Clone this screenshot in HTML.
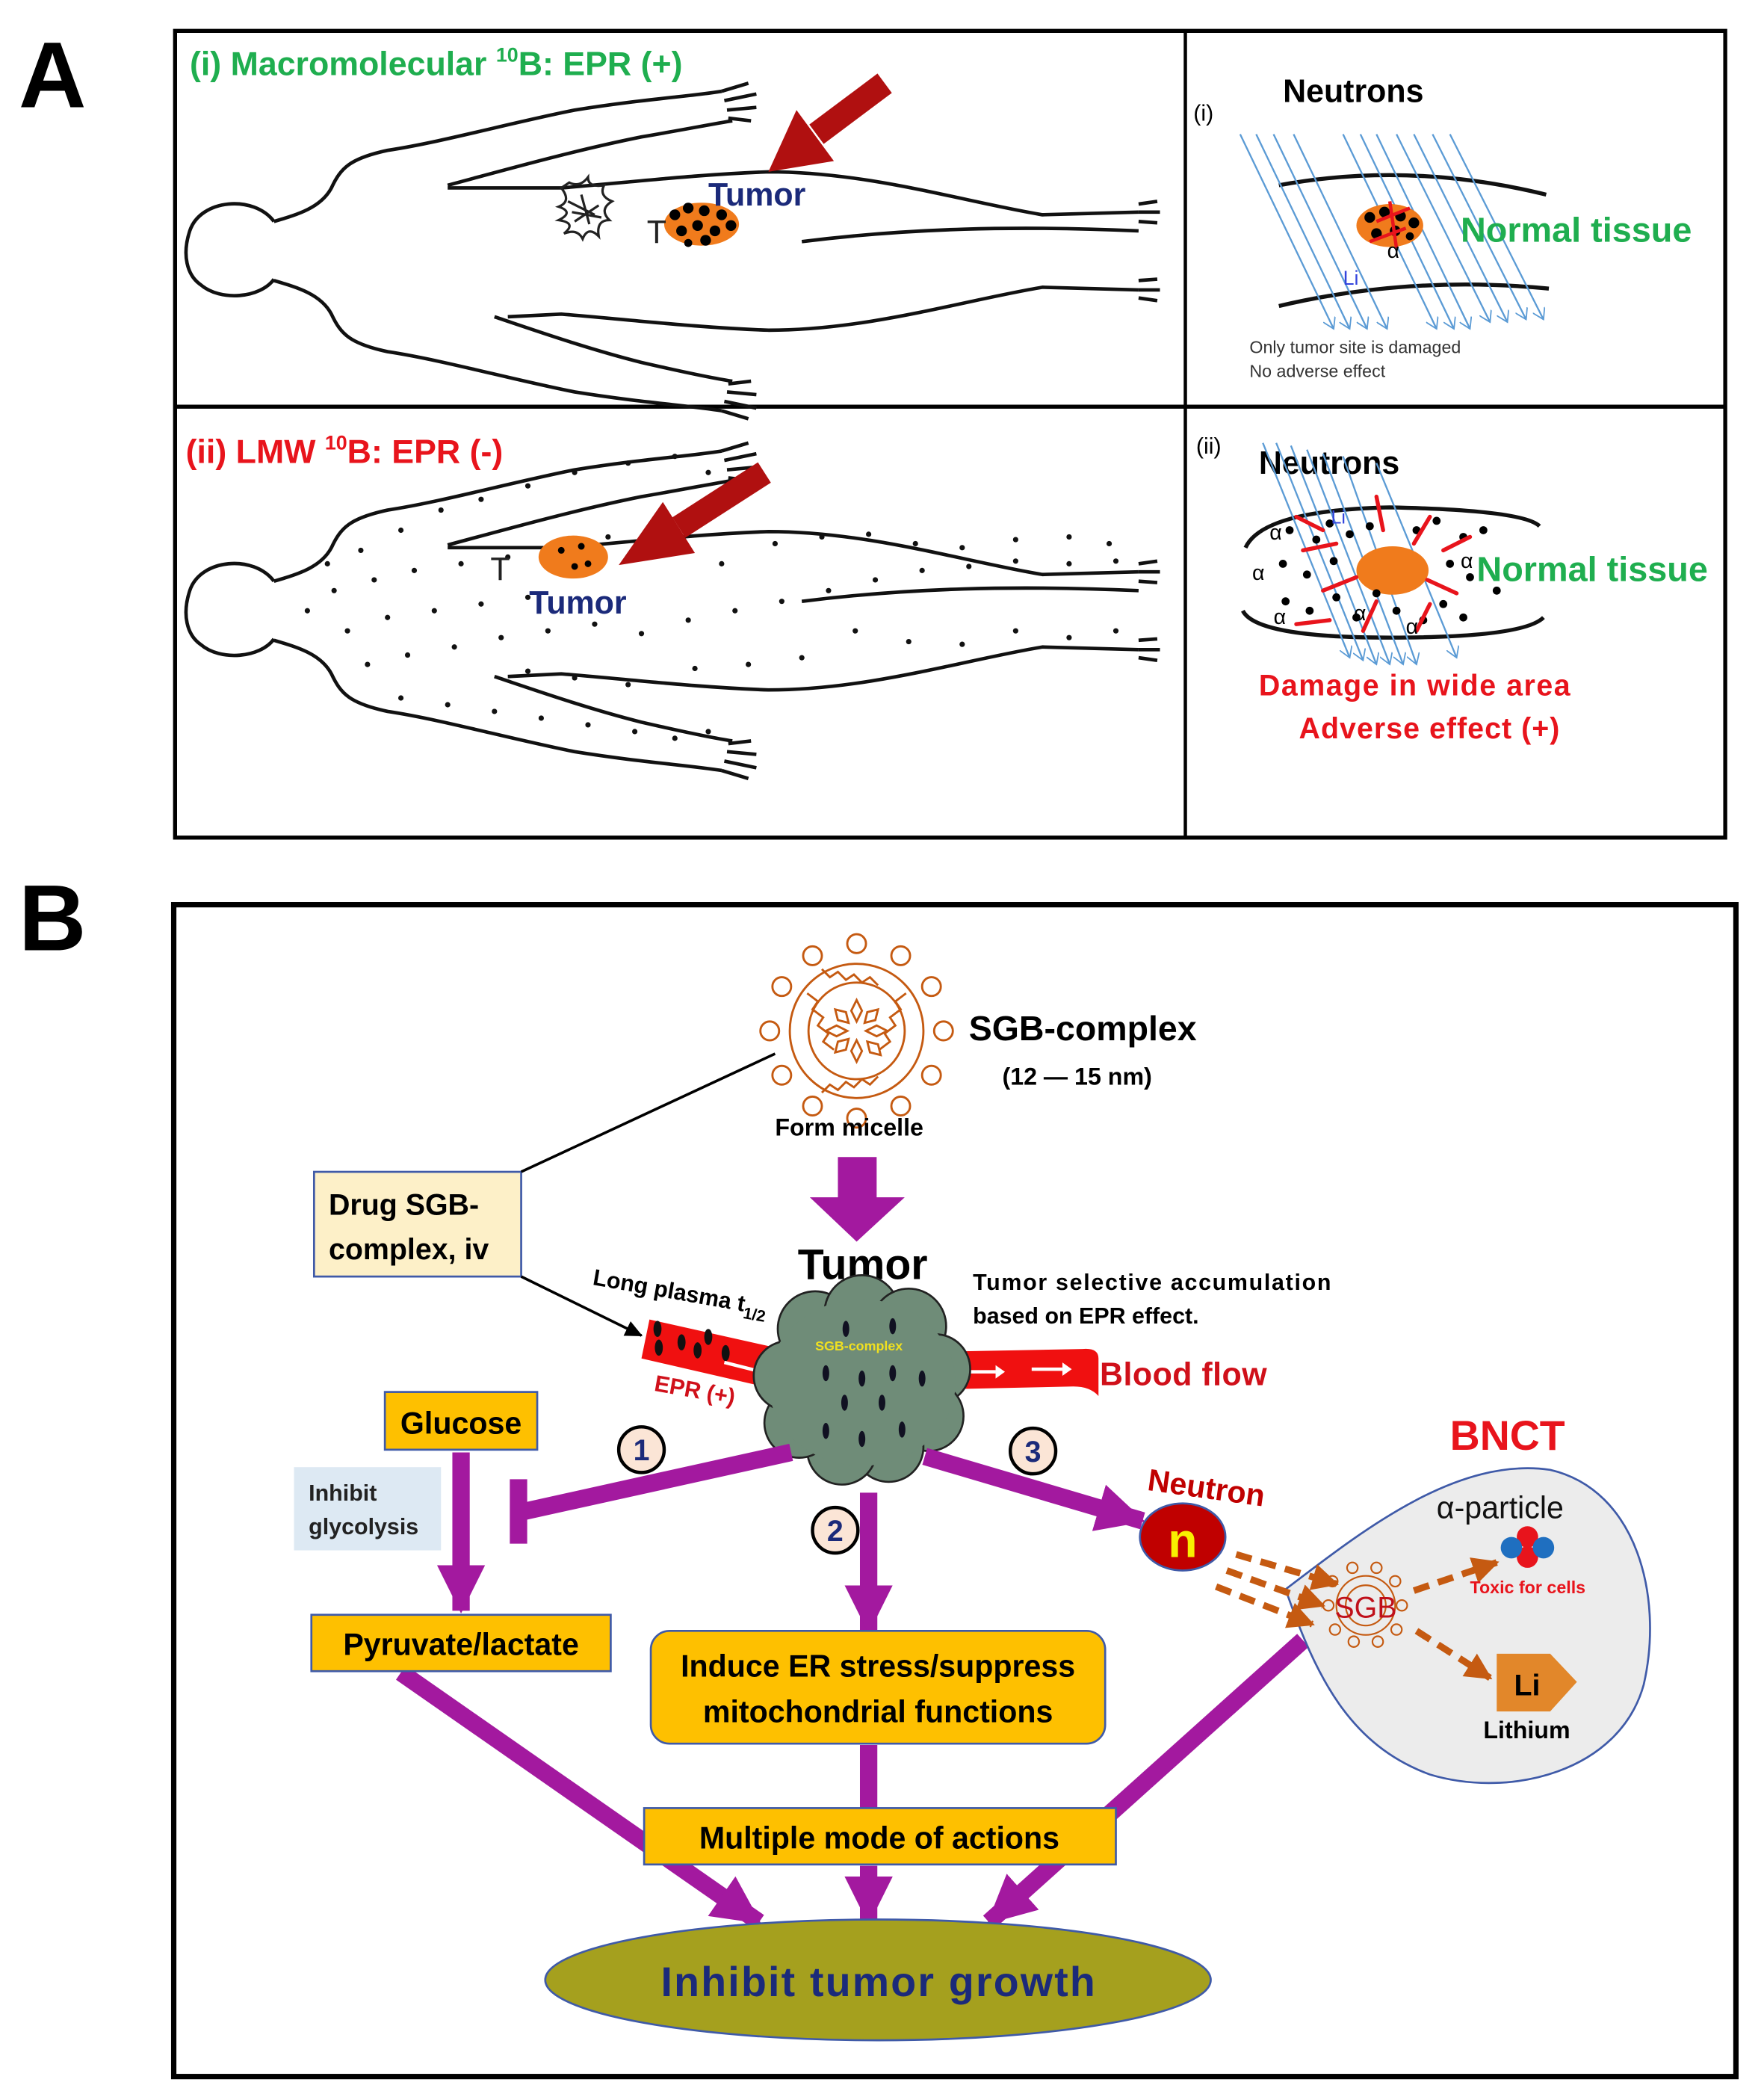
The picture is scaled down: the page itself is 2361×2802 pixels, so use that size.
<!DOCTYPE html>
<html><head><meta charset="utf-8"><style>
html,body{margin:0;padding:0;background:#fff}
svg{display:block}
text{font-family:"Liberation Sans",sans-serif}
</style></head><body>
<svg width="2361" height="2802" viewBox="0 0 1320 1560" preserveAspectRatio="none" xmlns="http://www.w3.org/2000/svg">
<defs>
<marker id="pa" markerUnits="userSpaceOnUse" markerWidth="40" markerHeight="40" refX="34" refY="20" orient="auto"><path d="M0,2 L36,20 L0,38 Z" fill="#a3199f"/></marker>
<marker id="ka" markerUnits="userSpaceOnUse" markerWidth="14" markerHeight="14" refX="12" refY="7" orient="auto"><path d="M0,1 L13,7 L0,13 Z" fill="#000"/></marker>
<marker id="oa" markerUnits="userSpaceOnUse" markerWidth="22" markerHeight="22" refX="18" refY="11" orient="auto"><path d="M0,1 L20,11 L0,21 Z" fill="#c55a11"/></marker>
<marker id="ba" markerUnits="userSpaceOnUse" markerWidth="10" markerHeight="10" refX="8" refY="5" orient="auto"><path d="M0,0 L8,5 L0,10" fill="none" stroke="#5b9bd5" stroke-width="1"/></marker>
<g id="body" fill="none" stroke="#111" stroke-width="2.6" stroke-linejoin="round">
<path d="M205,165 C190,145 150,148 142,172 C136,190 140,205 150,212 C165,225 195,222 205,208"/>
<path d="M205,165 C222,160 240,155 248,140 C255,125 262,118 290,112 C330,106 380,92 430,82 C480,74 515,72 540,68"/>
<path d="M540,68 L560,62 M542,75 L566,70 M544,82 L566,80 M545,88 L562,90"/>
<path d="M335,138 C380,126 430,112 480,102 C515,96 535,92 548,90"/>
<path d="M335,140 L420,140 C470,136 520,130 575,128 C650,128 720,150 780,160 L852,158"/>
<path d="M852,152 L866,150 M852,158 L868,158 M852,165 L866,166"/>
<path d="M600,180 C680,170 760,168 852,172"/>
<g transform="translate(0,374) scale(1,-1)">
<path d="M205,165 C222,160 240,155 248,140 C255,125 262,118 290,112 C330,106 380,92 430,82 C480,74 515,72 540,68"/>
<path d="M540,68 L560,62 M542,75 L566,70 M544,82 L566,80 M545,88 L562,90"/>
<path d="M370,138 C400,128 440,114 480,104 C515,96 535,92 548,90"/>
<path d="M380,138 L420,140 C470,136 520,130 575,128 C650,128 720,150 780,160 L852,158"/>
<path d="M852,152 L866,150 M852,158 L868,158 M852,165 L866,166"/>
</g>
</g>
</defs>

<!-- Panel A -->
<text x="14" y="80" font-size="70" font-weight="bold">A</text>
<rect x="131" y="23" width="1160" height="601" fill="none" stroke="#000" stroke-width="3"/>
<line x1="887" y1="23" x2="887" y2="624" stroke="#000" stroke-width="2.5"/>
<line x1="131" y1="303" x2="1291" y2="303" stroke="#000" stroke-width="3"/>

<text x="142" y="56" font-size="25" font-weight="bold" fill="#1fae4f">(i)  Macromolecular <tspan font-size="15" dy="-10">10</tspan><tspan dy="10">B:  EPR (+)</tspan></text>
<use href="#body"/>
<g fill="none" stroke="#222" stroke-width="1.8"><path d="M420,140 q8,10 -2,14 q12,4 0,10 q14,2 4,10 q10,-4 14,4 q4,-10 12,-2 q-2,-12 8,-12 q-8,-8 2,-14 q-10,-4 -6,-12 q-12,2 -12,-6 q-6,8 -14,4z M425,150 l20,10 M430,165 l18,-12 M428,158 l22,4 M435,145 l6,22"/></g>
<ellipse cx="525" cy="167" rx="28" ry="16" fill="#f07b1c"/>
<g fill="#000"><circle cx="505" cy="160" r="4"/><circle cx="515" cy="155" r="4"/><circle cx="527" cy="157" r="4"/><circle cx="540" cy="160" r="4"/><circle cx="510" cy="172" r="4"/><circle cx="522" cy="168" r="4"/><circle cx="535" cy="172" r="4"/><circle cx="547" cy="168" r="4"/><circle cx="528" cy="179" r="4"/><circle cx="515" cy="181" r="3"/></g>
<text x="484" y="181" font-size="24" fill="#222">T</text>
<text x="530" y="153" font-size="24" font-weight="bold" fill="#1b2a7a">Tumor</text>
<line x1="662" y1="62" x2="611" y2="100" stroke="#b01010" stroke-width="18"/>
<polygon points="575,128 624,120 596,82" fill="#b01010"/>

<!-- A(i) right -->
<text x="893" y="90" font-size="17">(i)</text>
<text x="960" y="76" font-size="24" font-weight="bold">Neutrons</text>
<path d="M957,138 Q1055,120 1157,145" fill="none" stroke="#111" stroke-width="3"/>
<path d="M957,228 Q1055,205 1159,215" fill="none" stroke="#111" stroke-width="3"/>
<g stroke="#5b9bd5" stroke-width="1.3" marker-end="url(#ba)">
<line x1="928" y1="100" x2="998" y2="245"/><line x1="940" y1="100" x2="1010" y2="245"/><line x1="953" y1="100" x2="1023" y2="245"/><line x1="968" y1="100" x2="1038" y2="245"/>
<line x1="1005" y1="100" x2="1075" y2="245"/><line x1="1018" y1="100" x2="1088" y2="245"/><line x1="1030" y1="100" x2="1100" y2="245"/><line x1="1045" y1="100" x2="1115" y2="240"/>
<line x1="1058" y1="100" x2="1128" y2="240"/><line x1="1072" y1="100" x2="1142" y2="238"/><line x1="1085" y1="100" x2="1155" y2="238"/>
</g>
<ellipse cx="1040" cy="168" rx="25" ry="16" fill="#f07b1c"/>
<g fill="#000"><circle cx="1025" cy="162" r="4"/><circle cx="1036" cy="158" r="4"/><circle cx="1048" cy="161" r="4"/><circle cx="1058" cy="166" r="4"/><circle cx="1030" cy="174" r="4"/><circle cx="1044" cy="172" r="4"/><circle cx="1055" cy="176" r="3"/></g>
<g stroke="#e8141c" stroke-width="2.5"><line x1="1040" y1="150" x2="1045" y2="185"/><line x1="1030" y1="165" x2="1055" y2="155"/><line x1="1025" y1="180" x2="1052" y2="170"/></g>
<text x="1038" y="192" font-size="16">α</text>
<text x="1005" y="212" font-size="15" fill="#3344dd">Li</text>
<text x="1093" y="180" font-size="26" font-weight="bold" fill="#1fae4f" textLength="173" lengthAdjust="spacingAndGlyphs">Normal tissue</text>
<text x="935" y="263" font-size="13" fill="#333">Only tumor site is damaged</text>
<text x="935" y="281" font-size="13" fill="#333">No adverse effect</text>

<!-- Panel A(ii) -->
<text x="139" y="345" font-size="25" font-weight="bold" fill="#e8141c">(ii) LMW <tspan font-size="15" dy="-10">10</tspan><tspan dy="10">B: EPR (-)</tspan></text>
<use href="#body" transform="translate(0,268)"/>
<g fill="#111">
<circle cx="270" cy="410" r="2"/><circle cx="300" cy="395" r="2"/><circle cx="330" cy="380" r="2"/><circle cx="360" cy="372" r="2"/><circle cx="395" cy="362" r="2"/><circle cx="430" cy="352" r="2"/><circle cx="470" cy="345" r="2"/><circle cx="505" cy="340" r="2"/><circle cx="530" cy="352" r="2"/>
<circle cx="250" cy="440" r="2"/><circle cx="280" cy="432" r="2"/><circle cx="310" cy="425" r="2"/><circle cx="345" cy="420" r="2"/><circle cx="380" cy="415" r="2"/><circle cx="260" cy="470" r="2"/><circle cx="290" cy="460" r="2"/><circle cx="325" cy="455" r="2"/><circle cx="360" cy="450" r="2"/>
<circle cx="395" cy="445" r="2"/><circle cx="275" cy="495" r="2"/><circle cx="305" cy="488" r="2"/><circle cx="340" cy="482" r="2"/><circle cx="375" cy="475" r="2"/><circle cx="410" cy="470" r="2"/><circle cx="445" cy="465" r="2"/><circle cx="480" cy="472" r="2"/>
<circle cx="515" cy="462" r="2"/><circle cx="550" cy="455" r="2"/><circle cx="585" cy="448" r="2"/><circle cx="620" cy="440" r="2"/><circle cx="655" cy="432" r="2"/><circle cx="690" cy="425" r="2"/><circle cx="725" cy="422" r="2"/><circle cx="760" cy="418" r="2"/><circle cx="800" cy="420" r="2"/><circle cx="835" cy="418" r="2"/>
<circle cx="540" cy="420" r="2"/><circle cx="580" cy="405" r="2"/><circle cx="615" cy="400" r="2"/><circle cx="650" cy="398" r="2"/><circle cx="685" cy="405" r="2"/><circle cx="720" cy="408" r="2"/><circle cx="760" cy="402" r="2"/><circle cx="800" cy="400" r="2"/><circle cx="830" cy="405" r="2"/>
<circle cx="640" cy="470" r="2"/><circle cx="680" cy="478" r="2"/><circle cx="720" cy="480" r="2"/><circle cx="760" cy="470" r="2"/><circle cx="800" cy="475" r="2"/><circle cx="835" cy="470" r="2"/><circle cx="600" cy="490" r="2"/><circle cx="560" cy="495" r="2"/><circle cx="520" cy="498" r="2"/>
<circle cx="300" cy="520" r="2"/><circle cx="335" cy="525" r="2"/><circle cx="370" cy="530" r="2"/><circle cx="405" cy="535" r="2"/><circle cx="440" cy="540" r="2"/><circle cx="475" cy="545" r="2"/><circle cx="505" cy="550" r="2"/><circle cx="530" cy="545" r="2"/>
<circle cx="230" cy="455" r="2"/><circle cx="245" cy="420" r="2"/><circle cx="455" cy="400" r="2"/><circle cx="490" cy="392" r="2"/><circle cx="430" cy="505" r="2"/><circle cx="470" cy="510" r="2"/><circle cx="395" cy="500" r="2"/>
</g>
<ellipse cx="429" cy="415" rx="26" ry="16" fill="#f07b1c"/>
<g fill="#000"><circle cx="420" cy="410" r="2.5"/><circle cx="435" cy="407" r="2.5"/><circle cx="430" cy="422" r="2.5"/><circle cx="440" cy="420" r="2.5"/></g>
<text x="367" y="432" font-size="24" fill="#222">T</text>
<text x="396" y="457" font-size="24" font-weight="bold" fill="#1b2a7a">Tumor</text>
<line x1="572" y1="352" x2="508" y2="393" stroke="#b01010" stroke-width="18"/>
<polygon points="463,421 520,412 496,374" fill="#b01010"/>

<!-- A(ii) right -->
<text x="895" y="338" font-size="17">(ii)</text>
<text x="942" y="353" font-size="24" font-weight="bold">Neutrons</text>
<path d="M932,408 Q945,380 1040,378 Q1140,380 1152,392" fill="none" stroke="#111" stroke-width="3"/>
<path d="M930,455 Q940,475 1040,475 Q1140,475 1155,460" fill="none" stroke="#111" stroke-width="3"/>
<g stroke="#5b9bd5" stroke-width="1.3" marker-end="url(#ba)">
<line x1="945" y1="330" x2="1010" y2="490"/><line x1="955" y1="330" x2="1020" y2="492"/><line x1="966" y1="332" x2="1030" y2="495"/><line x1="978" y1="335" x2="1040" y2="495"/><line x1="990" y1="338" x2="1050" y2="495"/><line x1="1005" y1="340" x2="1060" y2="495"/><line x1="1030" y1="345" x2="1090" y2="490"/>
</g>
<ellipse cx="1042" cy="425" rx="27" ry="18" fill="#f07b1c"/>
<g fill="#000">
<circle cx="965" cy="395" r="3"/><circle cx="985" cy="402" r="3"/><circle cx="995" cy="390" r="3"/><circle cx="1010" cy="398" r="3"/><circle cx="1025" cy="392" r="3"/><circle cx="1060" cy="395" r="3"/><circle cx="1075" cy="388" r="3"/><circle cx="1095" cy="400" r="3"/><circle cx="1110" cy="395" r="3"/>
<circle cx="960" cy="420" r="3"/><circle cx="978" cy="428" r="3"/><circle cx="998" cy="418" r="3"/><circle cx="1085" cy="420" r="3"/><circle cx="1100" cy="430" r="3"/><circle cx="1120" cy="440" r="3"/>
<circle cx="962" cy="448" r="3"/><circle cx="980" cy="455" r="3"/><circle cx="1000" cy="445" r="3"/><circle cx="1015" cy="460" r="3"/><circle cx="1045" cy="455" r="3"/><circle cx="1065" cy="462" r="3"/><circle cx="1080" cy="450" r="3"/><circle cx="1095" cy="460" r="3"/><circle cx="1030" cy="442" r="3"/>
</g>
<g stroke="#e8141c" stroke-width="3" stroke-linecap="round">
<line x1="970" y1="385" x2="990" y2="395"/><line x1="1030" y1="370" x2="1035" y2="395"/><line x1="1070" y1="385" x2="1058" y2="405"/><line x1="975" y1="410" x2="1000" y2="405"/><line x1="1080" y1="410" x2="1100" y2="400"/>
<line x1="990" y1="440" x2="1015" y2="430"/><line x1="1068" y1="432" x2="1090" y2="442"/><line x1="970" y1="465" x2="995" y2="462"/><line x1="1020" y1="470" x2="1030" y2="448"/><line x1="1060" y1="470" x2="1070" y2="450"/>
</g>
<g font-size="16"><text x="950" y="402">α</text><text x="937" y="432">α</text><text x="953" y="465">α</text><text x="1013" y="462">α</text><text x="1052" y="472">α</text><text x="1093" y="423">α</text></g>
<text x="996" y="390" font-size="14" fill="#3344dd">Li</text>
<text x="1105" y="433" font-size="26" font-weight="bold" fill="#1fae4f" textLength="173" lengthAdjust="spacingAndGlyphs">Normal tissue</text>
<text x="942" y="518" font-size="22" font-weight="bold" fill="#e8141c" textLength="233">Damage in wide area</text>
<text x="972" y="550" font-size="22" font-weight="bold" fill="#e8141c" textLength="195">Adverse effect (+)</text>

<!-- Panel B -->
<text x="14" y="708" font-size="70" font-weight="bold">B</text>
<rect x="130" y="674" width="1169" height="873" fill="none" stroke="#000" stroke-width="4"/>

<!-- micelle -->
<g fill="none" stroke="#c55a11" stroke-width="1.6">
<circle cx="641" cy="768" r="50"/><circle cx="641" cy="768" r="36"/>
<path d="M604,740 l8,6 l-4,6 l8,6 l-4,6 l8,6 l-4,6 l8,6 M678,740 l-8,6 l4,6 l-8,6 l4,6 l-8,6 l4,6 l-8,6 M615,722 l6,6 l6,-4 l6,6 l6,-4 l6,6 l6,-4 l6,6 M615,814 l6,-6 l6,4 l6,-6 l6,4 l6,-6 l6,4 l6,-6"/>
<path d="M641,745 l4,8 l-4,8 l-4,-8z M641,775 l4,8 l-4,8 l-4,-8z M618,768 l8,-4 l8,4 l-8,4z M648,768 l8,-4 l8,4 l-8,4z M625,752 l8,2 l2,8 l-8,-2z M649,776 l8,2 l2,8 l-8,-2z M657,752 l-8,2 l-2,8 l8,-2z M625,784 l8,-2 l2,-8 l-8,2z"/>
<circle cx="706" cy="768" r="7"/><circle cx="697" cy="735" r="7"/><circle cx="674" cy="712" r="7"/><circle cx="641" cy="703" r="7"/><circle cx="608" cy="712" r="7"/><circle cx="585" cy="735" r="7"/><circle cx="576" cy="768" r="7"/><circle cx="585" cy="801" r="7"/><circle cx="608" cy="824" r="7"/><circle cx="641" cy="833" r="7"/><circle cx="674" cy="824" r="7"/><circle cx="697" cy="801" r="7"/>
</g>
<text x="725" y="775" font-size="26" font-weight="bold">SGB-complex</text>
<text x="750" y="808" font-size="18" font-weight="bold">(12 — 15 nm)</text>
<text x="580" y="846" font-size="18" font-weight="bold">Form micelle</text>
<polygon points="627,862 656,862 656,892 677,892 641,925 606,892 627,892" fill="#a3199f"/>

<!-- drug box -->
<rect x="235" y="873" width="155" height="78" fill="#fdf0c8" stroke="#3f5aa8" stroke-width="1.5"/>
<text x="246" y="905" font-size="22" font-weight="bold">Drug SGB-</text>
<text x="246" y="938" font-size="22" font-weight="bold">complex, iv</text>
<line x1="390" y1="873" x2="580" y2="785" stroke="#000" stroke-width="2"/>
<line x1="390" y1="951" x2="480" y2="995" stroke="#000" stroke-width="2" marker-end="url(#ka)"/>
<text x="597" y="953" font-size="32" font-weight="bold">Tumor</text>
<text x="443" y="957" font-size="17" font-weight="bold" transform="rotate(10 443 957)">Long plasma t<tspan font-size="12" dy="5">1/2</tspan></text>
<text x="728" y="961" font-size="17" font-weight="bold" textLength="268">Tumor selective accumulation</text>
<text x="728" y="986" font-size="17" font-weight="bold">based on EPR effect.</text>

<!-- vessels -->
<polygon points="486,983 585,1005 580,1035 480,1012" fill="#f01010"/>
<g fill="#111"><ellipse cx="492" cy="990" rx="3" ry="6"/><ellipse cx="493" cy="1004" rx="3" ry="6"/><ellipse cx="510" cy="1000" rx="3" ry="6"/><ellipse cx="522" cy="1006" rx="3" ry="6"/><ellipse cx="530" cy="996" rx="3" ry="6"/><ellipse cx="543" cy="1008" rx="3" ry="6"/></g>
<line x1="542" y1="1015" x2="570" y2="1022" stroke="#fff" stroke-width="2.5"/>
<path d="M705,1007 L810,1005 Q822,1004 822,1012 L822,1040 Q815,1032 800,1033 L705,1035 Z" fill="#f01010"/>
<g stroke="#fff" stroke-width="2.5"><line x1="722" y1="1022" x2="745" y2="1022"/><line x1="772" y1="1020" x2="795" y2="1020"/></g>
<g fill="#fff"><path d="M745,1017 L752,1022 L745,1027Z"/><path d="M795,1015 L802,1020 L795,1025Z"/></g>
<text x="823" y="1032" font-size="24" font-weight="bold" fill="#d0101a" textLength="125">Blood flow</text>
<text x="489" y="1036" font-size="17" font-weight="bold" fill="#d0101a" transform="rotate(10 489 1036)">EPR (+)</text>

<!-- tumor cloud -->
<g fill="#6f8c78" stroke="#222" stroke-width="1.5">
<circle cx="610" cy="990" r="28"/><circle cx="645" cy="978" r="28"/><circle cx="680" cy="988" r="28"/><circle cx="700" cy="1020" r="26"/><circle cx="695" cy="1055" r="26"/><circle cx="665" cy="1078" r="26"/><circle cx="630" cy="1080" r="26"/><circle cx="598" cy="1060" r="26"/><circle cx="590" cy="1025" r="26"/>
</g>
<ellipse cx="645" cy="1030" rx="70" ry="62" fill="#6f8c78"/>
<g fill="#112" ><ellipse cx="633" cy="990" rx="2.5" ry="6"/><ellipse cx="668" cy="988" rx="2.5" ry="6"/><ellipse cx="618" cy="1023" rx="2.5" ry="6"/><ellipse cx="645" cy="1027" rx="2.5" ry="6"/><ellipse cx="668" cy="1023" rx="2.5" ry="6"/><ellipse cx="690" cy="1027" rx="2.5" ry="6"/><ellipse cx="632" cy="1045" rx="2.5" ry="6"/><ellipse cx="660" cy="1045" rx="2.5" ry="6"/><ellipse cx="618" cy="1066" rx="2.5" ry="6"/><ellipse cx="645" cy="1072" rx="2.5" ry="6"/><ellipse cx="675" cy="1065" rx="2.5" ry="6"/></g>
<text x="610" y="1006" font-size="10" font-weight="bold" fill="#f0e020">SGB-complex</text>

<!-- purple connectors -->
<g stroke="#a3199f" stroke-width="13" fill="none">
<line x1="592" y1="1082" x2="392" y2="1126"/>
<line x1="388" y1="1102" x2="388" y2="1150"/>
<line x1="345" y1="1082" x2="345" y2="1200" marker-end="url(#pa)"/>
<line x1="650" y1="1112" x2="650" y2="1215" marker-end="url(#pa)"/>
<line x1="692" y1="1085" x2="855" y2="1133" marker-end="url(#pa)"/>
<line x1="300" y1="1246" x2="568" y2="1432" marker-end="url(#pa)"/>
<line x1="650" y1="1300" x2="650" y2="1350"/>
<line x1="650" y1="1390" x2="650" y2="1432" marker-end="url(#pa)"/>
<line x1="975" y1="1222" x2="740" y2="1432" marker-end="url(#pa)"/>
</g>

<g stroke="#000" stroke-width="2.5" fill="#fbe5d6">
<circle cx="480" cy="1080" r="17"/><circle cx="625" cy="1140" r="17"/><circle cx="773" cy="1081" r="17"/>
</g>
<g font-size="22" font-weight="bold" fill="#1b2a7a" text-anchor="middle"><text x="480" y="1088">1</text><text x="625" y="1148">2</text><text x="773" y="1089">3</text></g>

<rect x="288" y="1037" width="114" height="43" fill="#fec000" stroke="#3f5aa8" stroke-width="1.5"/>
<text x="345" y="1068" font-size="23" font-weight="bold" text-anchor="middle">Glucose</text>
<rect x="220" y="1093" width="110" height="62" fill="#dde9f3"/>
<text x="231" y="1118" font-size="17" font-weight="bold" fill="#222">Inhibit</text>
<text x="231" y="1143" font-size="17" font-weight="bold" fill="#222">glycolysis</text>
<rect x="233" y="1203" width="224" height="42" fill="#fec000" stroke="#3f5aa8" stroke-width="1.5"/>
<text x="345" y="1233" font-size="23" font-weight="bold" text-anchor="middle">Pyruvate/lactate</text>
<rect x="487" y="1215" width="340" height="84" rx="14" fill="#fec000" stroke="#3f5aa8" stroke-width="1.5"/>
<text x="657" y="1249" font-size="23" font-weight="bold" text-anchor="middle">Induce ER stress/suppress</text>
<text x="657" y="1283" font-size="23" font-weight="bold" text-anchor="middle">mitochondrial functions</text>
<rect x="482" y="1347" width="353" height="42" fill="#fec000" stroke="#3f5aa8" stroke-width="1.5"/>
<text x="658" y="1377" font-size="23" font-weight="bold" text-anchor="middle">Multiple mode of actions</text>
<ellipse cx="657" cy="1475" rx="249" ry="45" fill="#a5a01e" stroke="#3f5aa8" stroke-width="1.5"/>
<text x="657" y="1487" font-size="31" font-weight="bold" fill="#1b2a7a" text-anchor="middle" textLength="325">Inhibit tumor growth</text>

<!-- BNCT -->
<text x="1085" y="1080" font-size="31" font-weight="bold" fill="#e8141c">BNCT</text>
<text x="858" y="1110" font-size="23" font-weight="bold" fill="#c00000" transform="rotate(8 858 1110)">Neutron</text>
<ellipse cx="885" cy="1145" rx="32" ry="25" fill="#c00000" stroke="#3f5aa8" stroke-width="1.5"/>
<text x="885" y="1160" font-size="36" font-weight="bold" fill="#f8f000" text-anchor="middle">n</text>
<path d="M962,1184 C1020,1140 1090,1085 1160,1095 C1225,1110 1245,1190 1230,1255 C1212,1320 1130,1340 1070,1322 C1010,1300 985,1250 962,1184 Z" fill="#ececec" stroke="#3f5aa8" stroke-width="1.5"/>
<g stroke="#c55a11" stroke-width="5" stroke-dasharray="12,7" fill="none" marker-end="url(#oa)">
<line x1="925" y1="1158" x2="1000" y2="1180"/>
<line x1="918" y1="1170" x2="990" y2="1196"/>
<line x1="910" y1="1182" x2="982" y2="1210"/>
<line x1="1058" y1="1185" x2="1120" y2="1164"/>
<line x1="1060" y1="1215" x2="1115" y2="1250"/>
</g>
<g fill="none" stroke="#c55a11" stroke-width="1.2">
<circle cx="1022" cy="1196" r="22"/><circle cx="1022" cy="1196" r="15"/>
<circle cx="1049" cy="1196" r="4"/><circle cx="1044" cy="1178" r="4"/><circle cx="1030" cy="1168" r="4"/><circle cx="1012" cy="1168" r="4"/><circle cx="997" cy="1178" r="4"/><circle cx="994" cy="1196" r="4"/><circle cx="999" cy="1214" r="4"/><circle cx="1013" cy="1223" r="4"/><circle cx="1031" cy="1223" r="4"/><circle cx="1045" cy="1214" r="4"/>
</g>
<text x="1022" y="1205" font-size="22" fill="#c0101a" text-anchor="middle">SGB</text>
<text x="1075" y="1131" font-size="23" fill="#111">α-particle</text>
<circle cx="1143" cy="1145" r="8" fill="#e8141c"/><circle cx="1143" cy="1160" r="8" fill="#e8141c"/>
<circle cx="1131" cy="1153" r="8" fill="#1f6fc0"/><circle cx="1155" cy="1153" r="8" fill="#1f6fc0"/>
<text x="1100" y="1187" font-size="13" font-weight="bold" fill="#e8141c">Toxic for cells</text>
<polygon points="1120,1232 1160,1232 1180,1253 1160,1275 1120,1275" fill="#e2872a"/>
<text x="1133" y="1263" font-size="22" font-weight="bold">Li</text>
<text x="1110" y="1295" font-size="18" font-weight="bold">Lithium</text>
</svg>
</body></html>
